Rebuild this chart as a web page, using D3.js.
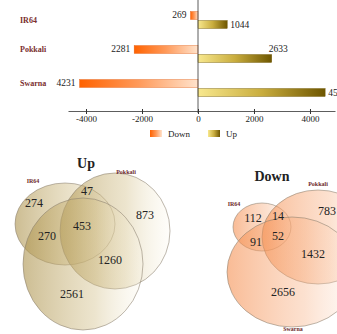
<!DOCTYPE html>
<html>
<head>
<meta charset="utf-8">
<script src="https://cdn.jsdelivr.net/npm/d3@7"></script>
<style>
  html, body { margin: 0; padding: 0; background: #fff; }
  svg { display: block; font-family: "Liberation Serif", "DejaVu Serif", serif; }
</style>
</head>
<body>
<svg id="chart" width="337" height="334"></svg>
<script>
// Differentially expressed gene counts per cultivar
const cultivars = ["IR64", "Pokkali", "Swarna"];
const downCounts = [269, 2281, 4231];
const upCounts = [1044, 2633, 4541];
const xTicks = [-4000, -2000, 0, 2000, 4000];
const legendLabels = ["Down", "Up"];

// Venn region counts (region keys: sets involved)
const upRegionKeys = ["IR64", "IR64&Pokkali", "Pokkali", "IR64&Pokkali&Swarna", "IR64&Swarna", "Pokkali&Swarna", "Swarna"];
const upRegionCounts = [274, 47, 873, 453, 270, 1260, 2561];
const downRegionKeys = ["IR64", "IR64&Pokkali", "Pokkali", "IR64&Pokkali&Swarna", "IR64&Swarna", "Pokkali&Swarna", "Swarna"];
const downRegionCounts = [112, 14, 783, 52, 91, 1432, 2656];

const svg = d3.select("#chart");
const defs = svg.append("defs");

function grad(id, stops) {
  const g = defs.append("linearGradient").attr("id", id)
    .attr("x1", 0).attr("y1", 0).attr("x2", 1).attr("y2", 0);
  stops.forEach(s => g.append("stop").attr("offset", s[0]).attr("stop-color", s[1]).attr("stop-opacity", s[2] == null ? 1 : s[2]));
}
grad("gDown", [[0, "#ff6200"], [0.5, "#ff9a5a"], [1, "#ffe3cc"]]);
grad("gUp", [[0, "#f8e88e"], [0.5, "#c9ad3e"], [1, "#6e5600"]]);
grad("gVennUp", [[0, "#ab914a", 0.6], [0.6, "#d3c08a", 0.42], [1, "#fbf6e6", 0.2]]);
grad("gVennDown", [[0, "#f4843f", 0.55], [0.6, "#f8b489", 0.4], [1, "#fde6d6", 0.2]]);

// ---------- Diverging bar chart ----------
const x = d3.scaleLinear().domain([-4643, 4893]).range([68, 335]);
const y = d3.scaleBand().domain(cultivars).range([3, 105]);
const barH = 8;

const bars = svg.append("g");
cultivars.forEach((c, i) => {
  const cy = y(c) + y.bandwidth() / 2;
  bars.append("rect")
    .attr("x", x(-downCounts[i])).attr("y", cy - barH - 0.5)
    .attr("width", x(0) - x(-downCounts[i])).attr("height", barH)
    .attr("fill", "url(#gDown)").attr("stroke", "#e0601a").attr("stroke-width", 0.4);
  bars.append("rect")
    .attr("x", x(0)).attr("y", cy + 0.5)
    .attr("width", x(upCounts[i]) - x(0)).attr("height", barH)
    .attr("fill", "url(#gUp)").attr("stroke", "#6e5600").attr("stroke-width", 0.4);

  // value labels
  bars.append("text")
    .attr("x", x(-downCounts[i]) - 4).attr("y", cy - 2)
    .attr("text-anchor", "end").attr("font-size", 9.5).attr("fill", "#222")
    .text(downCounts[i]);
  const upAbove = i === 1;
  bars.append("text")
    .attr("x", upAbove ? x(upCounts[i]) - 3 : x(upCounts[i]) + 3)
    .attr("y", upAbove ? cy - 2 : cy + 8)
    .attr("text-anchor", "start").attr("font-size", 9.5).attr("fill", "#222")
    .text(upCounts[i]);

  // category label
  bars.append("text")
    .attr("x", 20).attr("y", i === 0 ? cy + 3 : cy - 2)
    .attr("font-size", 8).attr("font-weight", "bold").attr("fill", "#7a2e2e")
    .text(c);
});

// zero line
svg.append("line").attr("x1", x(0)).attr("x2", x(0)).attr("y1", 0).attr("y2", 113)
  .attr("stroke", "#333").attr("stroke-width", 0.8);

// x axis
const axisG = svg.append("g").attr("transform", "translate(0,111)")
  .call(d3.axisBottom(x).tickValues(xTicks).tickFormat(d => String(d)).tickSize(3).tickSizeOuter(0));
axisG.attr("font-family", null).attr("font-size", null);
axisG.select(".domain").attr("stroke", "#333").attr("stroke-width", 0.8);
axisG.selectAll(".tick line").attr("stroke", "#333").attr("y1", -2);
axisG.selectAll(".tick text")
  .style("font-family", "'Liberation Serif', serif")
  .attr("font-size", 9).attr("fill", "#222").attr("dy", "0.55em");

// legend
const legend = svg.append("g");
legendLabels.forEach((l, i) => {
  const lx = i === 0 ? 150 : 208;
  legend.append("rect").attr("x", lx).attr("y", 130).attr("width", 12).attr("height", 7)
    .attr("fill", i === 0 ? "url(#gDown)" : "url(#gUp)");
  legend.append("text").attr("x", lx + 18).attr("y", 137)
    .attr("font-size", 9).attr("fill", "#222").text(l);
});

// ---------- Venn diagrams ----------
function venn(opts) {
  const g = svg.append("g");
  g.append("text").attr("x", opts.title[1]).attr("y", opts.title[2])
    .attr("text-anchor", "middle").attr("font-size", 14).attr("font-weight", "bold")
    .attr("fill", "#222").text(opts.title[0]);
  opts.sets.forEach(s => {
    g.append("ellipse").attr("cx", s.cx).attr("cy", s.cy).attr("rx", s.rx).attr("ry", s.ry)
      .attr("fill", opts.fill).attr("stroke", "#8a8070").attr("stroke-opacity", 0.7).attr("stroke-width", 0.8);
    if (s.lx != null) {
      g.append("text").attr("x", s.lx).attr("y", s.ly).attr("text-anchor", "middle")
        .attr("font-size", 6).attr("font-weight", "bold").attr("fill", "#6e2a2a").text(s.name);
    }
  });
  opts.keys.forEach((k, i) => {
    const p = opts.pos[k];
    g.append("text").attr("x", p[0]).attr("y", p[1]).attr("text-anchor", "middle")
      .attr("dominant-baseline", "central").attr("font-size", 12).attr("fill", "#222")
      .text(opts.counts[i]);
  });
}

venn({
  title: ["Up", 86, 168],
  fill: "url(#gVennUp)",
  sets: [
    { name: "IR64", cx: 65, cy: 224, rx: 50, ry: 41, lx: 33, ly: 183 },
    { name: "Pokkali", cx: 115, cy: 231, rx: 55, ry: 58, lx: 126, ly: 174 },
    { name: "Swarna", cx: 83, cy: 264, rx: 60, ry: 66 }
  ],
  keys: upRegionKeys,
  counts: upRegionCounts,
  pos: {
    "IR64": [34, 203], "IR64&Pokkali": [87, 191], "Pokkali": [145, 215],
    "IR64&Pokkali&Swarna": [82, 226], "IR64&Swarna": [47, 236],
    "Pokkali&Swarna": [110, 260], "Swarna": [72, 294]
  }
});

venn({
  title: ["Down", 272, 181],
  fill: "url(#gVennDown)",
  sets: [
    { name: "IR64", cx: 262, cy: 227, rx: 29, ry: 24, lx: 234, ly: 206 },
    { name: "Pokkali", cx: 318, cy: 237, rx: 56, ry: 47, lx: 318, ly: 186 },
    { name: "Swarna", cx: 292, cy: 272, rx: 65, ry: 55, lx: 293, ly: 331 }
  ],
  keys: downRegionKeys,
  counts: downRegionCounts,
  pos: {
    "IR64": [253, 218], "IR64&Pokkali": [278, 216], "Pokkali": [327, 211],
    "IR64&Pokkali&Swarna": [278, 236], "IR64&Swarna": [256, 242],
    "Pokkali&Swarna": [313, 254], "Swarna": [283, 292]
  }
});
</script>
</body>
</html>
